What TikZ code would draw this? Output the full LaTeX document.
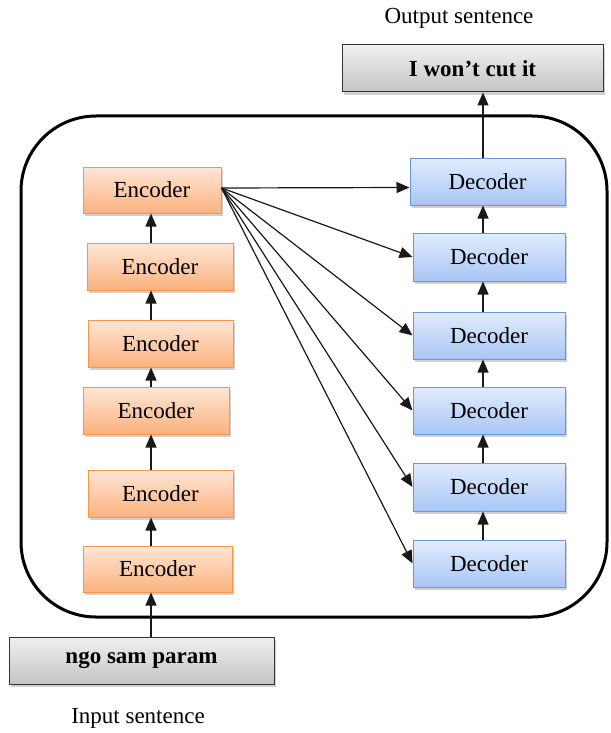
\documentclass[tikz,border=0pt]{standalone}
\usepackage{fontspec}
\setmainfont{Liberation Serif}
\usetikzlibrary{arrows.meta,shadows}
\definecolor{encB}{HTML}{F79646}
\definecolor{encT}{HTML}{FEE6D6}
\definecolor{encBot}{HTML}{FBB27E}
\definecolor{decB}{HTML}{6A96D8}
\definecolor{decT}{HTML}{E1ECFD}
\definecolor{decBot}{HTML}{A9C6F5}
\definecolor{gryT}{HTML}{F0F0F0}
\definecolor{gryBot}{HTML}{C4C4C4}
\tikzset{
  boxbase/.style={rectangle, inner sep=0pt, font=\fontsize{23}{27}\selectfont,
    drop shadow={shadow xshift=2pt, shadow yshift=-3pt, opacity=0.3, fill=black!60}},
  encbox/.style={boxbase, draw=encB, line width=1pt, top color=encT, bottom color=encBot, minimum height=46pt},
  decbox/.style={boxbase, draw=decB, line width=1pt, top color=decT, bottom color=decBot, minimum height=47pt, minimum width=152pt},
  grybox/.style={boxbase, draw=black!80, line width=1pt, top color=gryT, bottom color=gryBot, minimum height=47pt, font=\fontsize{23}{27}\selectfont\bfseries},
  lbl/.style={font=\fontsize{23}{27}\selectfont, inner sep=0pt},
  arr/.style={-{Triangle[length=13pt,width=11pt]}, line width=1.2pt, black!90},
  frame/.style={line width=3pt, rounded corners=75pt}
}
\begin{document}
\begin{tikzpicture}[x=1pt,y=-1pt]
\useasboundingbox (0,0) rectangle (610,733);
\fill[white] (0,0) rectangle (610,733);
\draw[frame] (21,116) rectangle (607,617);

\node[lbl] (outl) at (459,18) {Output sentence};
\node[lbl] (inl) at (138,718) {Input sentence};

\node[grybox, minimum width=261pt] (out) at (472.5,68.5) {I won’t cut it};
\node[grybox, minimum width=265pt] (inp) at (141.5,660.5) {ngo sam param};

\node[encbox, minimum width=138pt] (E1) at (152,190) {Encoder};
\node[encbox, minimum width=146pt, minimum height=47pt] (E2) at (160,266.5) {Encoder};
\node[encbox, minimum width=145pt, minimum height=47pt] (E3) at (160.5,343.5) {Encoder};
\node[encbox, minimum width=146pt, minimum height=47pt] (E4) at (156,410.5) {Encoder};
\node[encbox, minimum width=145pt, minimum height=47pt] (E5) at (160.5,493.5) {Encoder};
\node[encbox, minimum width=149pt] (E6) at (157.5,569) {Encoder};

\node[decbox, minimum width=155pt] (D1) at (487.5,181.5) {Decoder};
\node[decbox, minimum height=48pt] (D2) at (489,257) {Decoder};
\node[decbox] (D3) at (489,335.5) {Decoder};
\node[decbox] (D4) at (489,410.5) {Decoder};
\node[decbox, minimum height=48pt] (D5) at (489,487) {Decoder};
\node[decbox] (D6) at (489,563.5) {Decoder};

\coordinate (ex) at (151,0);
\coordinate (dx) at (483,0);

\draw[arr] (inp.north -| ex) -- (E6.south -| ex);
\draw[arr] (E6.north -| ex) -- (E5.south -| ex);
\draw[arr] (E5.north -| ex) -- (E4.south -| ex);
\draw[arr] (E4.north -| ex) -- (E3.south -| ex);
\draw[arr] (E3.north -| ex) -- (E2.south -| ex);
\draw[arr] (E2.north -| ex) -- (E1.south -| ex);

\draw[arr] (D6.north -| dx) -- (D5.south -| dx);
\draw[arr] (D5.north -| dx) -- (D4.south -| dx);
\draw[arr] (D4.north -| dx) -- (D3.south -| dx);
\draw[arr] (D3.north -| dx) -- (D2.south -| dx);
\draw[arr] (D2.north -| dx) -- (D1.south -| dx);
\draw[arr] (D1.north -| dx) -- (out.south -| dx);

\coordinate (es) at ([yshift=2pt]E1.east);
\draw[arr] (es) -- ([yshift=-6pt]D1.west);
\foreach \d in {D2,D3,D4,D5,D6} {
  \draw[arr] (es) -- (\d.west);
}
\end{tikzpicture}
\end{document}
